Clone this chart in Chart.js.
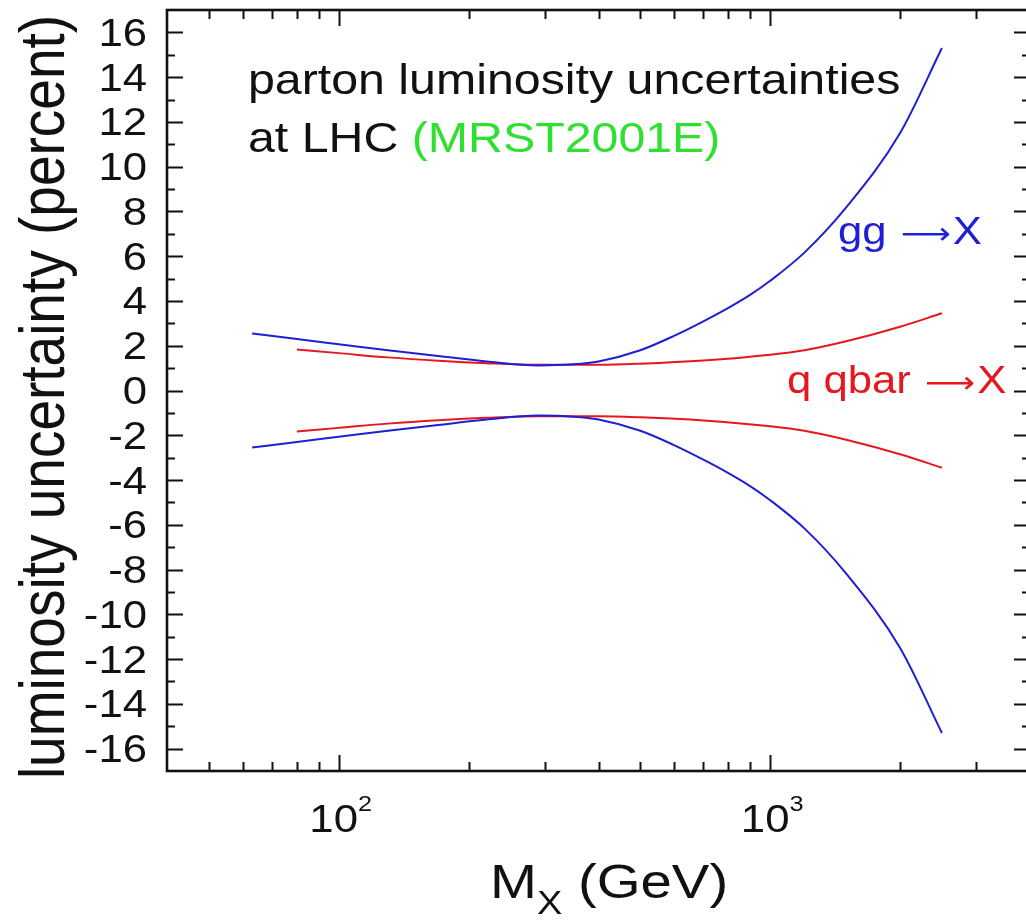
<!DOCTYPE html>
<html>
<head>
<meta charset="utf-8">
<script src="https://cdn.jsdelivr.net/npm/chart.js@4.4.1/dist/chart.umd.min.js"></script>
<style>
  html, body { margin: 0; padding: 0; background: #fff; overflow: hidden; }
  canvas { display: block; }
</style>
</head>
<body>
<canvas id="lumi" width="1040" height="922"></canvas>
<script>
// gg -> X luminosity band (percent), vs M_X in GeV
const massGG  = [63, 80, 100, 130, 170, 220, 290, 350, 400, 500, 600, 700, 800, 900, 1000, 1200, 1500, 2000, 2500];
const ggUpper = [2.55, 2.3, 2.07, 1.8, 1.54, 1.3, 1.12, 1.17, 1.3, 1.8, 2.45, 3.09, 3.69, 4.28, 4.9, 6.16, 8.18, 11.5, 15.3];
const ggLower = [-2.55, -2.3, -2.07, -1.8, -1.54, -1.3, -1.12, -1.17, -1.3, -1.8, -2.45, -3.09, -3.69, -4.28, -4.9, -6.16, -8.18, -11.5, -15.3];

// q qbar -> X band
const massQQ  = [80, 100, 130, 170, 220, 290, 400, 500, 700, 1000, 1200, 1500, 2000, 2500];
const qqUpper = [1.83, 1.67, 1.48, 1.33, 1.22, 1.15, 1.15, 1.2, 1.34, 1.6, 1.8, 2.2, 2.85, 3.45];
const qqLower = [-1.83, -1.67, -1.48, -1.33, -1.22, -1.15, -1.15, -1.2, -1.34, -1.6, -1.8, -2.2, -2.85, -3.45];

// axis ticks
const xMajorTicks = [100, 1000];
const xMajorLabels = [['10', '2'], ['10', '3']];
const xMinorTicks = [50, 60, 70, 80, 90, 200, 300, 400, 500, 600, 700, 800, 900, 2000, 3000];

const FONT = '"Liberation Sans", Arial, Helvetica, sans-serif';
const ARROW_FONT = '"DejaVu Sans", sans-serif';
const STRETCH = 1.15;  // glyphs are a bit wide in this plot
const BLUE = '#1f1fd4', RED = '#e6171f', GREEN = '#30e030', INK = '#111';

const pts = (xs, ys) => xs.map((m, i) => ({ x: m, y: ys[i] }));

function txt(ctx, s, x, y, size, color, align, rot, family) {
  ctx.save();
  ctx.translate(x, y);
  ctx.scale(STRETCH, 1);
  if (rot) ctx.rotate(rot);
  ctx.font = size + 'px ' + (family || FONT);
  ctx.fillStyle = color;
  ctx.textAlign = align || 'left';
  ctx.textBaseline = 'alphabetic';
  ctx.fillText(s, 0, 0);
  ctx.restore();
}

function txtWidth(ctx, s, size, family) {
  ctx.font = size + 'px ' + (family || FONT);
  return ctx.measureText(s).width * STRETCH;
}

// label like "gg -> X" with a long thin arrow
function arrowLabel(ctx, left, right, x, y, size, color) {
  txt(ctx, left, x, y, size, color);
  let cx = x + txtWidth(ctx, left, size) + 2;
  txt(ctx, '\u27F6', cx, y, size * 0.8, color, 'left', 0, ARROW_FONT);
  cx += txtWidth(ctx, '\u27F6', size * 0.8, ARROW_FONT) + 2;
  txt(ctx, right, cx, y, size, color);
}

const framePlugin = {
  id: 'framePlugin',
  afterDraw(chart) {
    const { ctx, chartArea: a, scales: { x, y } } = chart;
    ctx.save();
    ctx.strokeStyle = INK;
    ctx.lineWidth = 2;
    ctx.beginPath();
    // x ticks, top and bottom, pointing in
    xMajorTicks.concat(xMinorTicks).forEach(v => {
      const px = Math.round(x.getPixelForValue(v)) + 0.5;
      const len = xMajorTicks.includes(v) ? 16 : 9;
      ctx.moveTo(px, a.bottom); ctx.lineTo(px, a.bottom - len);
      ctx.moveTo(px, a.top);    ctx.lineTo(px, a.top + len);
    });
    // y ticks, left and right
    y.ticks.forEach(t => {
      if (Math.abs(t.value) >= 17) return;
      const py = Math.round(y.getPixelForValue(t.value)) + 0.5;
      const len = t.value % 2 === 0 ? 16 : 8;
      ctx.moveTo(a.left, py);  ctx.lineTo(a.left + len, py);
      ctx.moveTo(a.right, py); ctx.lineTo(a.right - len, py);
    });
    ctx.stroke();
    ctx.lineWidth = 2.6;
    ctx.strokeRect(a.left, a.top, a.right - a.left, a.bottom - a.top);
    ctx.restore();

    // y tick labels
    y.ticks.forEach(t => {
      if (t.value % 2 !== 0 || Math.abs(t.value) > 16) return;
      txt(ctx, String(t.value), a.left - 20, y.getPixelForValue(t.value) + 13.5, 38, INK, 'right');
    });

    // x tick labels with superscript exponent
    xMajorTicks.forEach((v, i) => {
      const [base, exp] = xMajorLabels[i];
      const wb = txtWidth(ctx, base, 38), we = txtWidth(ctx, exp, 22);
      const x0 = x.getPixelForValue(v) - (wb + we) / 2 + 2;
      txt(ctx, base, x0, 832, 38, INK);
      txt(ctx, exp, x0 + wb, 811, 22, INK);
    });

    // axis titles
    const mx = 490;
    txt(ctx, 'M', mx, 898, 49, INK);
    const wm = txtWidth(ctx, 'M', 49);
    txt(ctx, 'X', mx + wm, 914, 33, INK);
    txt(ctx, ' (GeV)', mx + wm + txtWidth(ctx, 'X', 33), 898, 49, INK);
    txt(ctx, 'luminosity uncertainty (percent)', 64, 397, 55, INK, 'center', -Math.PI / 2);

    // in-plot text
    txt(ctx, 'parton luminosity uncertainties', 248, 94, 42, INK);
    txt(ctx, 'at LHC ', 248, 152, 42, INK);
    txt(ctx, '(MRST2001E)', 248 + txtWidth(ctx, 'at LHC ', 42), 152, 42, GREEN);
    arrowLabel(ctx, 'gg ', 'X', 838, 244, 38, BLUE);
    arrowLabel(ctx, 'q qbar ', 'X', 787, 393, 38, RED);
  }
};

const line = (data, color) => ({
  data, borderColor: color, borderWidth: 2, pointRadius: 0,
  fill: false, cubicInterpolationMode: 'monotone'
});

new Chart(document.getElementById('lumi'), {
  type: 'line',
  data: {
    datasets: [
      line(pts(massGG, ggUpper), BLUE),
      line(pts(massGG, ggLower), BLUE),
      line(pts(massQQ, qqUpper), RED),
      line(pts(massQQ, qqLower), RED)
    ]
  },
  options: {
    responsive: false,
    animation: false,
    layout: { padding: { top: 10, right: 10, left: 0, bottom: 0 } },
    plugins: { legend: { display: false }, tooltip: { enabled: false } },
    scales: {
      x: {
        type: 'logarithmic', min: 40, max: 4000,
        grid: { display: false }, border: { display: false },
        ticks: { display: false },
        afterFit: s => { s.height = 151; }
      },
      y: {
        type: 'linear', min: -17, max: 17,
        grid: { display: false }, border: { display: false },
        ticks: { display: false, stepSize: 1, autoSkip: false },
        afterFit: s => { s.width = 167; }
      }
    }
  },
  plugins: [framePlugin]
});
</script>
</body>
</html>
